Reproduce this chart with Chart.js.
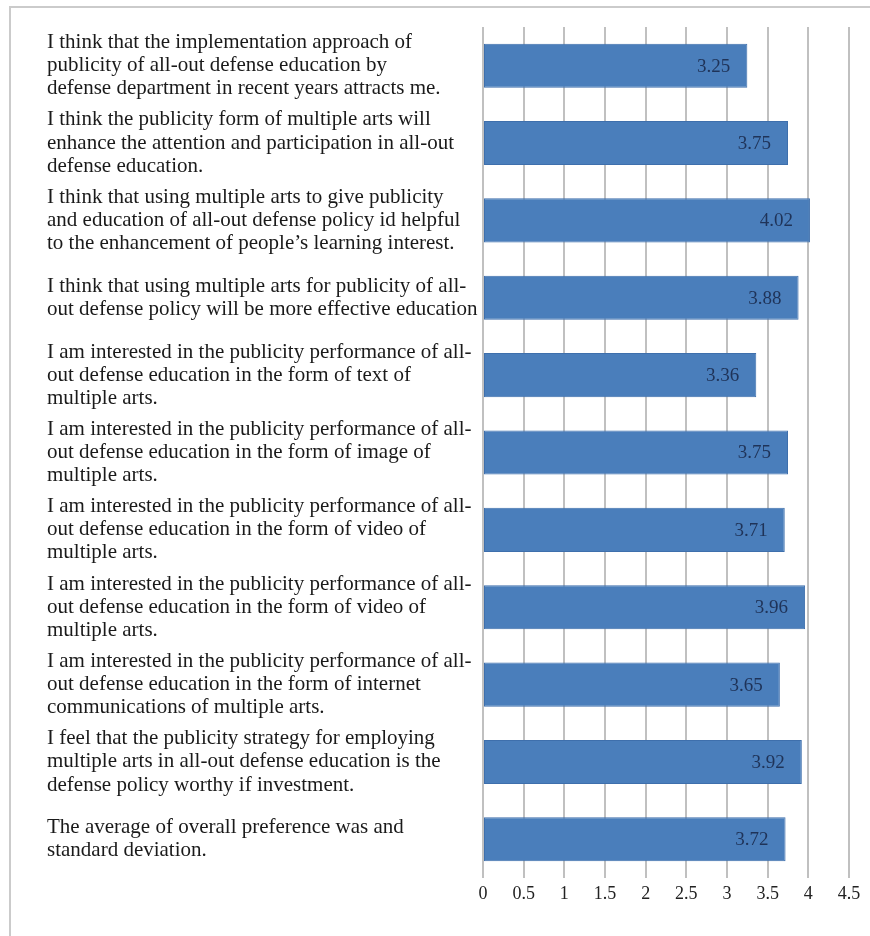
<!DOCTYPE html>
<html>
<head>
<meta charset="utf-8">
<script src="https://cdn.jsdelivr.net/npm/chart.js@4.4.0/dist/chart.umd.min.js"></script>
<style>
  html, body { margin: 0; padding: 0; background: #fff; }
  #wrap { position: relative; width: 870px; height: 936px; }
  #frame { position: absolute; left: 9px; top: 6px; width: 870px; height: 940px;
           border-top: 2px solid #cbcbcb; border-left: 2px solid #cbcbcb; }
  canvas { position: absolute; left: 0; top: 0; }
</style>
</head>
<body>
<div id="wrap">
  <div id="frame"></div>
  <canvas id="chart" width="870" height="936"></canvas>
</div>
<script>
const statements = [
    ['I think that the implementation approach of', 'publicity of all-out defense education by', 'defense department in recent years attracts me.'],
    ['I think the publicity form of multiple arts will', 'enhance the attention and participation in all-out', 'defense education.'],
    ['I think that using multiple arts to give publicity', 'and education of all-out defense policy id helpful', 'to the enhancement of people\u2019s learning interest.'],
    ['I think that using multiple arts for publicity of all-', 'out defense policy will be more effective education'],
    ['I am interested in the publicity performance of all-', 'out defense education in the form of text of', 'multiple arts.'],
    ['I am interested in the publicity performance of all-', 'out defense education in the form of image of', 'multiple arts.'],
    ['I am interested in the publicity performance of all-', 'out defense education in the form of video of', 'multiple arts.'],
    ['I am interested in the publicity performance of all-', 'out defense education in the form of video of', 'multiple arts.'],
    ['I am interested in the publicity performance of all-', 'out defense education in the form of internet', 'communications of multiple arts.'],
    ['I feel that the publicity strategy for employing', 'multiple arts in all-out defense education is the', 'defense policy worthy if investment.'],
    ['The average of overall preference was and', 'standard deviation.']
];
const meanScores = [3.25, 3.75, 4.02, 3.88, 3.36, 3.75, 3.71, 3.96, 3.65, 3.92, 3.72];
const axisMin = 0;
const axisMax = 4.5;
const axisStep = 0.5;

const serif = "'Liberation Serif', 'Times New Roman', serif";

// draws the value inside the end of each bar
const valueLabels = {
    id: 'valueLabels',
    afterDatasetsDraw(chart) {
        const ctx = chart.ctx;
        const meta = chart.getDatasetMeta(0);
        ctx.save();
        ctx.font = '19px ' + serif;
        ctx.fillStyle = '#1f3358';
        ctx.textAlign = 'right';
        ctx.textBaseline = 'middle';
        meta.data.forEach((bar, i) => {
            ctx.fillText(meanScores[i].toFixed(2), bar.x - 17, bar.y + 1);
        });
        ctx.restore();
    }
};

new Chart(document.getElementById('chart').getContext('2d'), {
    type: 'bar',
    data: {
        labels: statements,
        datasets: [{
            data: meanScores,
            backgroundColor: '#4a7ebb',
            borderColor: '#3e6fac',
            borderWidth: 1,
            borderSkipped: false,
            barPercentage: 0.57,
            categoryPercentage: 1
        }]
    },
    options: {
        indexAxis: 'y',
        responsive: false,
        animation: false,
        layout: { padding: { left: 47, top: 27, right: 21, bottom: 0 } },
        plugins: { legend: { display: false }, tooltip: { enabled: false } },
        scales: {
            x: {
                min: axisMin,
                max: axisMax,
                ticks: {
                    stepSize: axisStep,
                    color: '#222',
                    padding: 5,
                    font: { family: serif, size: 18 },
                    callback: v => String(v)
                },
                grid: { color: '#c0c0c0', lineWidth: 2, drawTicks: false },
                border: { display: false },
                afterFit: s => { s.height = 58; }
            },
            y: {
                ticks: {
                    crossAlign: 'far',
                    color: '#1a1a1a',
                    autoSkip: false,
                    font: { family: serif, size: 21, lineHeight: 1.1 }
                },
                grid: { display: false },
                border: { display: false },
                afterFit: s => { s.width = 436; }
            }
        }
    },
    plugins: [valueLabels]
});
</script>
</body>
</html>
